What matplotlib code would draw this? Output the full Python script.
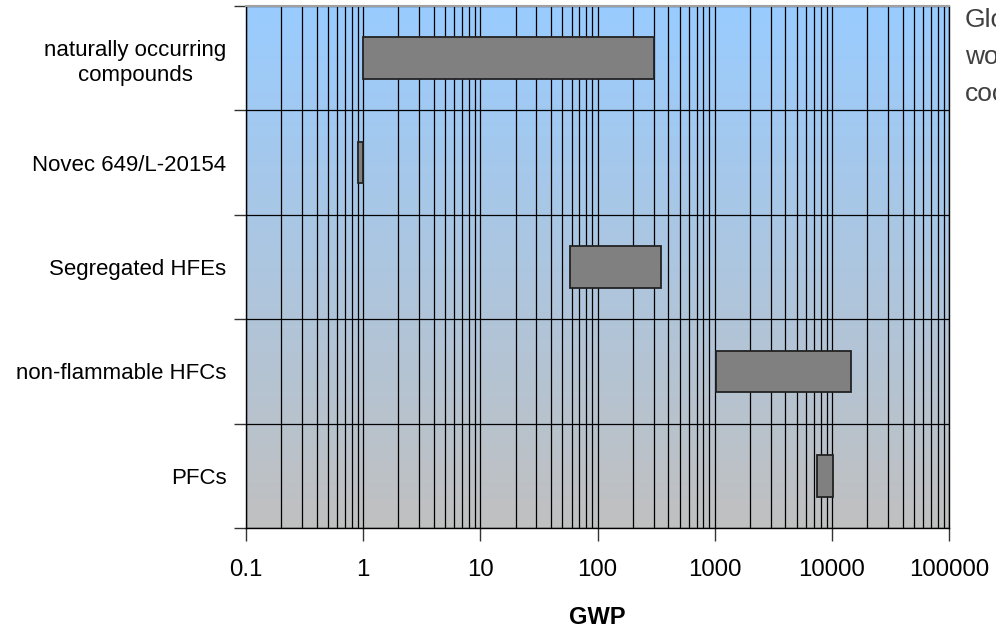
import numpy as np
import matplotlib.pyplot as plt
from matplotlib.colors import LinearSegmentedColormap

plt.rcParams['font.family'] = ['Liberation Sans', 'DejaVu Sans']

# data: GWP range per class of compound
categories = ['naturally occurring\ncompounds', 'Novec 649/L-20154', 'Segregated HFEs',
              'non-flammable HFCs', 'PFCs']
gwp_low = [1, 0.9, 58, 1030, 7400]
gwp_high = [300, 1, 350, 14500, 10300]
side_text = ['Glo', 'wo', 'coo']

fig = plt.figure(figsize=(9.96, 6.3), dpi=100)
ax = fig.add_axes([0.247, 0.1619, 0.706, 0.8286])

# gradient background (light blue on top, grey at bottom)
cmap = LinearSegmentedColormap.from_list('bg', ['#99ccff', '#c0c0c0'])
grad = np.linspace(0, 1, 256).reshape(-1, 1)
ax.imshow(grad, cmap=cmap, aspect='auto', extent=[0, 1, 0, 1],
          transform=ax.transAxes, zorder=0)

ax.set_xscale('log')
ax.set_xlim(0.1, 100000)
ax.set_ylim(len(categories) - 0.5, -0.5)

y = np.arange(len(categories))
widths = np.array(gwp_high) - np.array(gwp_low)
ax.barh(y, widths, left=gwp_low, height=0.4, color='#808080',
        edgecolor='#222222', linewidth=1.3, zorder=3)

# grid
ax.grid(True, which='both', axis='x', color='black', linewidth=0.9, zorder=1)
for b in np.arange(-0.5, len(categories), 1.0):
    ax.axhline(b, color='black', linewidth=0.9, zorder=1)

# y ticks: tick marks on boundaries, labels at centres
ax.set_yticks(np.arange(-0.5, len(categories), 1.0))
ax.set_yticklabels([])
ax.set_yticks(y, minor=True)
ax.set_yticklabels(categories, minor=True, fontsize=16, ha='right',
                   multialignment='center', linespacing=1.3)
ax.tick_params(axis='y', which='major', length=9, width=1, color='#333333')
ax.tick_params(axis='y', which='minor', length=0, pad=14)

ax.set_xticks([0.1, 1, 10, 100, 1000, 10000, 100000])
ax.set_xticklabels(['0.1', '1', '10', '100', '1000', '10000', '100000'], fontsize=17.3)
ax.tick_params(axis='x', which='major', length=9, width=1, color='#333333', pad=13)
ax.tick_params(axis='x', which='minor', length=0)

ax.set_xlabel('GWP', fontsize=17, fontweight='bold')
ax.xaxis.set_label_coords(0.5, (528 - 617) / 522)
ax.xaxis.label.set_va('center')

for s in ['left', 'right', 'bottom']:
    ax.spines[s].set_color('black')
    ax.spines[s].set_linewidth(1)
ax.spines['top'].set_color('#a0a0a0')
ax.spines['top'].set_linewidth(1.5)

for i, t in enumerate(side_text):
    fig.text(965 / 996, 1 - (20 + 37 * i) / 630, t, fontsize=19, color='#404040',
             ha='left', va='center')

fig.savefig('out.png', dpi=100)
